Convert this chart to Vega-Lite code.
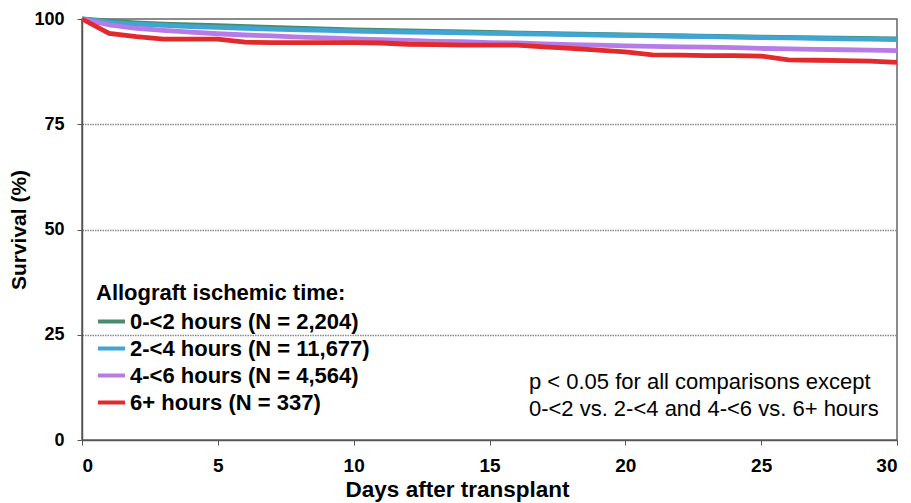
{
  "$schema": "https://vega.github.io/schema/vega-lite/v6.json",
  "width": 815,
  "height": 421,
  "autosize": {"type": "none"},
  "padding": {"left": 82, "top": 19, "right": 14, "bottom": 63},
  "background": "white",
  "config": {
    "font": "Liberation Sans",
    "view": {"stroke": "#666666", "strokeWidth": 1.5},
    "axis": {
      "labelFont": "Liberation Sans",
      "titleFont": "Liberation Sans",
      "labelFontWeight": "bold",
      "titleFontWeight": "bold",
      "labelColor": "#000000",
      "titleColor": "#000000",
      "domainColor": "#555555",
      "tickColor": "#555555",
      "domainWidth": 1.5,
      "tickSize": 5
    }
  },
  "datasets": {
    "surv": [
      {"day": 0, "s": 100, "g": "0-<2 hours (N = 2,204)"},
      {"day": 1, "s": 99.5, "g": "0-<2 hours (N = 2,204)"},
      {"day": 2, "s": 99.1, "g": "0-<2 hours (N = 2,204)"},
      {"day": 3, "s": 98.8, "g": "0-<2 hours (N = 2,204)"},
      {"day": 5, "s": 98.4, "g": "0-<2 hours (N = 2,204)"},
      {"day": 10, "s": 97.4, "g": "0-<2 hours (N = 2,204)"},
      {"day": 15, "s": 96.8, "g": "0-<2 hours (N = 2,204)"},
      {"day": 20, "s": 96.2, "g": "0-<2 hours (N = 2,204)"},
      {"day": 25, "s": 95.7, "g": "0-<2 hours (N = 2,204)"},
      {"day": 30, "s": 95.3, "g": "0-<2 hours (N = 2,204)"},

      {"day": 0, "s": 100, "g": "2-<4 hours (N = 11,677)"},
      {"day": 1, "s": 99.2, "g": "2-<4 hours (N = 11,677)"},
      {"day": 2, "s": 98.8, "g": "2-<4 hours (N = 11,677)"},
      {"day": 3, "s": 98.5, "g": "2-<4 hours (N = 11,677)"},
      {"day": 4, "s": 98.2, "g": "2-<4 hours (N = 11,677)"},
      {"day": 5, "s": 98.0, "g": "2-<4 hours (N = 11,677)"},
      {"day": 6, "s": 97.8, "g": "2-<4 hours (N = 11,677)"},
      {"day": 7, "s": 97.6, "g": "2-<4 hours (N = 11,677)"},
      {"day": 8, "s": 97.4, "g": "2-<4 hours (N = 11,677)"},
      {"day": 9, "s": 97.3, "g": "2-<4 hours (N = 11,677)"},
      {"day": 10, "s": 97.1, "g": "2-<4 hours (N = 11,677)"},
      {"day": 11, "s": 97.0, "g": "2-<4 hours (N = 11,677)"},
      {"day": 12, "s": 96.9, "g": "2-<4 hours (N = 11,677)"},
      {"day": 13, "s": 96.8, "g": "2-<4 hours (N = 11,677)"},
      {"day": 14, "s": 96.7, "g": "2-<4 hours (N = 11,677)"},
      {"day": 15, "s": 96.6, "g": "2-<4 hours (N = 11,677)"},
      {"day": 16, "s": 96.5, "g": "2-<4 hours (N = 11,677)"},
      {"day": 17, "s": 96.4, "g": "2-<4 hours (N = 11,677)"},
      {"day": 18, "s": 96.3, "g": "2-<4 hours (N = 11,677)"},
      {"day": 19, "s": 96.2, "g": "2-<4 hours (N = 11,677)"},
      {"day": 20, "s": 96.1, "g": "2-<4 hours (N = 11,677)"},
      {"day": 21, "s": 96.0, "g": "2-<4 hours (N = 11,677)"},
      {"day": 22, "s": 95.9, "g": "2-<4 hours (N = 11,677)"},
      {"day": 23, "s": 95.8, "g": "2-<4 hours (N = 11,677)"},
      {"day": 24, "s": 95.7, "g": "2-<4 hours (N = 11,677)"},
      {"day": 25, "s": 95.6, "g": "2-<4 hours (N = 11,677)"},
      {"day": 26, "s": 95.5, "g": "2-<4 hours (N = 11,677)"},
      {"day": 27, "s": 95.4, "g": "2-<4 hours (N = 11,677)"},
      {"day": 28, "s": 95.3, "g": "2-<4 hours (N = 11,677)"},
      {"day": 29, "s": 95.2, "g": "2-<4 hours (N = 11,677)"},
      {"day": 30, "s": 95.1, "g": "2-<4 hours (N = 11,677)"},

      {"day": 0, "s": 100, "g": "4-<6 hours (N = 4,564)"},
      {"day": 1, "s": 98.6, "g": "4-<6 hours (N = 4,564)"},
      {"day": 2, "s": 97.8, "g": "4-<6 hours (N = 4,564)"},
      {"day": 3, "s": 97.3, "g": "4-<6 hours (N = 4,564)"},
      {"day": 4, "s": 96.9, "g": "4-<6 hours (N = 4,564)"},
      {"day": 5, "s": 96.5, "g": "4-<6 hours (N = 4,564)"},
      {"day": 6, "s": 96.2, "g": "4-<6 hours (N = 4,564)"},
      {"day": 7, "s": 96.0, "g": "4-<6 hours (N = 4,564)"},
      {"day": 8, "s": 95.7, "g": "4-<6 hours (N = 4,564)"},
      {"day": 9, "s": 95.5, "g": "4-<6 hours (N = 4,564)"},
      {"day": 10, "s": 95.3, "g": "4-<6 hours (N = 4,564)"},
      {"day": 11, "s": 95.1, "g": "4-<6 hours (N = 4,564)"},
      {"day": 12, "s": 94.9, "g": "4-<6 hours (N = 4,564)"},
      {"day": 13, "s": 94.7, "g": "4-<6 hours (N = 4,564)"},
      {"day": 14, "s": 94.6, "g": "4-<6 hours (N = 4,564)"},
      {"day": 15, "s": 94.4, "g": "4-<6 hours (N = 4,564)"},
      {"day": 16, "s": 94.3, "g": "4-<6 hours (N = 4,564)"},
      {"day": 17, "s": 94.1, "g": "4-<6 hours (N = 4,564)"},
      {"day": 18, "s": 93.9, "g": "4-<6 hours (N = 4,564)"},
      {"day": 19, "s": 93.8, "g": "4-<6 hours (N = 4,564)"},
      {"day": 20, "s": 93.6, "g": "4-<6 hours (N = 4,564)"},
      {"day": 21, "s": 93.5, "g": "4-<6 hours (N = 4,564)"},
      {"day": 22, "s": 93.4, "g": "4-<6 hours (N = 4,564)"},
      {"day": 23, "s": 93.3, "g": "4-<6 hours (N = 4,564)"},
      {"day": 24, "s": 93.2, "g": "4-<6 hours (N = 4,564)"},
      {"day": 25, "s": 93.0, "g": "4-<6 hours (N = 4,564)"},
      {"day": 26, "s": 92.9, "g": "4-<6 hours (N = 4,564)"},
      {"day": 27, "s": 92.8, "g": "4-<6 hours (N = 4,564)"},
      {"day": 28, "s": 92.7, "g": "4-<6 hours (N = 4,564)"},
      {"day": 29, "s": 92.6, "g": "4-<6 hours (N = 4,564)"},
      {"day": 30, "s": 92.5, "g": "4-<6 hours (N = 4,564)"},

      {"day": 0, "s": 100, "g": "6+ hours (N = 337)"},
      {"day": 1, "s": 96.6, "g": "6+ hours (N = 337)"},
      {"day": 2, "s": 95.8, "g": "6+ hours (N = 337)"},
      {"day": 3, "s": 95.2, "g": "6+ hours (N = 337)"},
      {"day": 4, "s": 95.2, "g": "6+ hours (N = 337)"},
      {"day": 5, "s": 95.2, "g": "6+ hours (N = 337)"},
      {"day": 6, "s": 94.5, "g": "6+ hours (N = 337)"},
      {"day": 7, "s": 94.4, "g": "6+ hours (N = 337)"},
      {"day": 8, "s": 94.4, "g": "6+ hours (N = 337)"},
      {"day": 9, "s": 94.4, "g": "6+ hours (N = 337)"},
      {"day": 10, "s": 94.4, "g": "6+ hours (N = 337)"},
      {"day": 11, "s": 94.3, "g": "6+ hours (N = 337)"},
      {"day": 12, "s": 94.0, "g": "6+ hours (N = 337)"},
      {"day": 13, "s": 93.9, "g": "6+ hours (N = 337)"},
      {"day": 14, "s": 93.8, "g": "6+ hours (N = 337)"},
      {"day": 15, "s": 93.8, "g": "6+ hours (N = 337)"},
      {"day": 16, "s": 93.8, "g": "6+ hours (N = 337)"},
      {"day": 17, "s": 93.4, "g": "6+ hours (N = 337)"},
      {"day": 18, "s": 93.0, "g": "6+ hours (N = 337)"},
      {"day": 19, "s": 92.6, "g": "6+ hours (N = 337)"},
      {"day": 20, "s": 92.2, "g": "6+ hours (N = 337)"},
      {"day": 21, "s": 91.5, "g": "6+ hours (N = 337)"},
      {"day": 22, "s": 91.4, "g": "6+ hours (N = 337)"},
      {"day": 23, "s": 91.3, "g": "6+ hours (N = 337)"},
      {"day": 24, "s": 91.3, "g": "6+ hours (N = 337)"},
      {"day": 25, "s": 91.2, "g": "6+ hours (N = 337)"},
      {"day": 26, "s": 90.3, "g": "6+ hours (N = 337)"},
      {"day": 27, "s": 90.2, "g": "6+ hours (N = 337)"},
      {"day": 28, "s": 90.1, "g": "6+ hours (N = 337)"},
      {"day": 29, "s": 90.0, "g": "6+ hours (N = 337)"},
      {"day": 30, "s": 89.7, "g": "6+ hours (N = 337)"}
    ],
    "note": [
      {"text": "p < 0.05 for all comparisons except\n0-<2 vs. 2-<4 and 4-<6 vs. 6+ hours"}
    ]
  },
  "layer": [
    {
      "data": {"name": "surv"},
      "mark": {"type": "line", "strokeWidth": 4.8, "clip": false},
      "encoding": {
        "x": {
          "field": "day",
          "type": "quantitative",
          "scale": {"domain": [0, 30], "nice": false, "zero": false},
          "axis": {
            "title": "Days after transplant",
            "values": [0, 5, 10, 15, 20, 25, 30],
            "grid": false,
            "labelFontSize": 19,
            "titleFontSize": 22.5,
            "labelPadding": 11,
            "titlePadding": 3,
            "titleX": 375,
            "titleAlign": "center",
            "titleAnchor": "start"
          }
        },
        "y": {
          "field": "s",
          "type": "quantitative",
          "scale": {"domain": [0, 100], "nice": false},
          "axis": {
            "title": "Survival (%)",
            "values": [0, 25, 50, 75, 100],
            "grid": true,
            "gridColor": "#8a8a8a",
            "gridDash": [1.5, 1],
            "gridWidth": 1.5,
            "gridOpacity": {"condition": {"test": "datum.value == 0 || datum.value == 100", "value": 0}, "value": 1},
            "labelFontSize": 18,
            "titleFontSize": 21,
            "labelPadding": 13,
            "titlePadding": 4
          }
        },
        "color": {
          "field": "g",
          "type": "nominal",
          "sort": ["0-<2 hours (N = 2,204)", "2-<4 hours (N = 11,677)", "4-<6 hours (N = 4,564)", "6+ hours (N = 337)"],
          "scale": {
            "domain": ["0-<2 hours (N = 2,204)", "2-<4 hours (N = 11,677)", "4-<6 hours (N = 4,564)", "6+ hours (N = 337)"],
            "range": ["#4a8b6c", "#3fa6d3", "#b67be6", "#e22a2c"]
          },
          "legend": {
            "title": "Allograft ischemic time:",
            "orient": "none",
            "legendX": 14,
            "legendY": 264,
            "symbolType": "stroke",
            "symbolStrokeWidth": 4,
            "symbolSize": 729,
            "labelFont": "Liberation Sans",
            "titleFont": "Liberation Sans",
            "labelFontSize": 22,
            "titleFontSize": 22,
            "labelFontWeight": "bold",
            "titleFontWeight": "bold",
            "labelColor": "#000000",
            "titleColor": "#000000",
            "labelOffset": 3,
            "rowPadding": 0,
            "titlePadding": 1,
            "labelLimit": 500,
            "titleLimit": 500
          }
        }
      }
    },
    {
      "data": {"name": "note"},
      "mark": {
        "type": "text",
        "align": "left",
        "baseline": "alphabetic",
        "font": "Liberation Sans",
        "fontSize": 22,
        "color": "#000000",
        "lineHeight": 27,
        "lineBreak": "\n"
      },
      "encoding": {
        "text": {"field": "text"},
        "x": {"datum": 16.45},
        "y": {"datum": 12.2}
      }
    }
  ]
}
